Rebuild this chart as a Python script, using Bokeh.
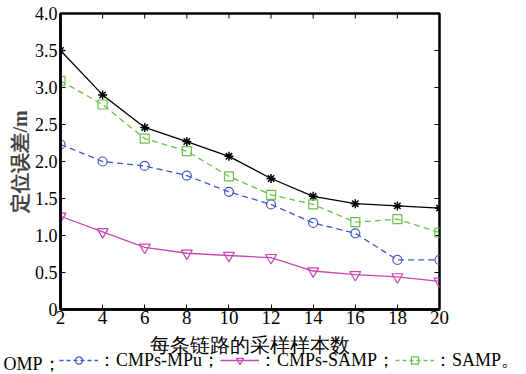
import math
from bokeh.plotting import figure
from bokeh.layouts import column
from bokeh.models import (Range1d, FixedTicker, NumeralTickFormatter,
                          Legend, LegendItem, Label)
from bokeh.embed import file_html
from bokeh.resources import INLINE

# ---- data ----
samples = [2, 4, 6, 8, 10, 12, 14, 16, 18, 20]
omp = [3.50, 2.90, 2.46, 2.27, 2.07, 1.77, 1.53, 1.43, 1.40, 1.37]
cmps_mpu = [2.23, 2.00, 1.94, 1.81, 1.59, 1.42, 1.17, 1.03, 0.67, 0.67]
cmps_samp = [1.26, 1.05, 0.84, 0.76, 0.73, 0.70, 0.52, 0.47, 0.44, 0.38]
samp = [3.09, 2.77, 2.31, 2.14, 1.80, 1.55, 1.42, 1.18, 1.22, 1.04]

x_ticks = [2, 4, 6, 8, 10, 12, 14, 16, 18, 20]
y_ticks = [0, 0.5, 1.0, 1.5, 2.0, 2.5, 3.0, 3.5, 4.0]
y_tick_labels = ["0", "0.5", "1.0", "1.5", "2.0", "2.5", "3.0", "3.5", "4.0"]
x_min, x_max = 2, 20
y_min, y_max = 0, 4

x_title = "每条链路的采样样本数"
y_title = "定位误差/m"
lead_label = "OMP；"
legend_labels = ["：CMPs-MPu；", "：CMPs-SAMP；", "：SAMP。"]

SERIF = "Liberation Serif"
BLUE = "#4257c6"
MAGENTA = "#c846b6"
GREEN = "#69c247"

W, H = 525, 373
LEFT, RIGHT, TOP, BOTTOM = 60, 86, 13, 24
FRAME_W = W - LEFT - RIGHT
FRAME_H = 296
MAIN_H = TOP + FRAME_H + BOTTOM
STRIP_H = H - MAIN_H

p = figure(width=W, height=MAIN_H,
           min_border_left=LEFT, min_border_right=RIGHT,
           min_border_top=TOP, min_border_bottom=BOTTOM,
           x_range=Range1d(x_min, x_max), y_range=Range1d(y_min, y_max),
           output_backend="svg", toolbar_location=None)
p.frame_align = False
p.grid.visible = False
p.outline_line_color = "black"
p.outline_line_width = 2.5
p.background_fill_color = "white"
p.border_fill_color = "white"

xa = p.xaxis[0]
ya = p.yaxis[0]
xa.ticker = FixedTicker(ticks=x_ticks)
ya.ticker = FixedTicker(ticks=y_ticks)
ya.formatter = NumeralTickFormatter(format="0.0")
ya.major_label_overrides = {t: l for t, l in zip(y_ticks, y_tick_labels)}
for ax in (xa, ya):
    ax.axis_line_width = 2.5
    ax.axis_line_color = "black"
    ax.major_tick_in = 5
    ax.major_tick_out = 0
    ax.minor_tick_line_color = None
    ax.major_tick_line_width = 1
    ax.major_label_text_font = SERIF
    ax.major_label_text_color = "black"
xa.major_label_text_font_size = "19px"
ya.major_label_text_font_size = "18px"
xa.major_label_standoff = 1
ya.major_label_standoff = 3
ya.axis_label = y_title
ya.axis_label_text_font = SERIF
ya.axis_label_text_font_size = "20px"
ya.axis_label_text_font_style = "bold"
ya.axis_label_standoff = 1

# inward ticks on the top and right edges (half of each dash is clipped by the frame)
p.scatter(x_ticks, [y_max] * len(x_ticks), marker="dash", size=10, angle=math.pi / 2,
          line_color="black", line_width=1)
p.scatter([x_max] * len(y_ticks), y_ticks, marker="dash", size=10,
          line_color="black", line_width=1)

# ---- series ----
p.line(samples, omp, line_color="black", line_width=1.3)
p.scatter(samples, omp, marker="asterisk", size=9, line_color="black", line_width=1.5)

p.line(samples, cmps_mpu, line_color=BLUE, line_width=1.3, line_dash="6 4")
p.scatter(samples, cmps_mpu, marker="circle", size=9, line_color=BLUE,
          fill_color=None, line_width=1.2)

p.line(samples, cmps_samp, line_color=MAGENTA, line_width=1.3)
p.scatter(samples, cmps_samp, marker="inverted_triangle", size=11, line_color=MAGENTA,
          fill_color=None, line_width=1.2)

p.line(samples, samp, line_color=GREEN, line_width=1.3, line_dash="6 4")
p.scatter(samples, samp, marker="square", size=9, line_color=GREEN,
          fill_color=None, line_width=1.2)

# ---- bottom strip: x title and legend row (1 data unit = 1 px) ----
q = figure(width=W, height=STRIP_H, x_range=Range1d(0, W), y_range=Range1d(0, STRIP_H),
           x_axis_type=None, y_axis_type=None,
           min_border=0, min_border_left=0, min_border_right=0,
           min_border_top=0, min_border_bottom=0,
           output_backend="svg", toolbar_location=None)
q.frame_align = False
q.grid.visible = False
q.outline_line_color = None
q.background_fill_color = "white"
q.border_fill_color = "white"

q.add_layout(Label(x=LEFT + FRAME_W / 2, y=STRIP_H, text=x_title, text_align="center",
                   text_baseline="top", text_font=SERIF, text_font_size="20px",
                   text_color="black"))
q.add_layout(Label(x=3, y=10, text=lead_label, text_align="left", text_baseline="middle",
                   text_font=SERIF, text_font_size="18px", text_color="black"))

# hidden renderers that only lend their style to the legend samples
g1 = [q.line(samples, cmps_mpu, line_color=BLUE, line_width=1.3, line_dash="4 3", visible=False),
      q.scatter(samples, cmps_mpu, marker="circle", size=8, line_color=BLUE, fill_color=None,
                line_width=1.2, visible=False)]
g2 = [q.line(samples, cmps_samp, line_color=MAGENTA, line_width=1.3, visible=False),
      q.scatter(samples, cmps_samp, marker="inverted_triangle", size=10, line_color=MAGENTA,
                fill_color=None, line_width=1.2, visible=False)]
g3 = [q.line(samples, samp, line_color=GREEN, line_width=1.3, line_dash="4 3", visible=False),
      q.scatter(samples, samp, marker="square", size=8, line_color=GREEN, fill_color=None,
                line_width=1.2, visible=False)]

legend = Legend(items=[
    LegendItem(label=legend_labels[0], renderers=g1),
    LegendItem(label=legend_labels[1], renderers=g2),
    LegendItem(label=legend_labels[2], renderers=g3),
], orientation="horizontal", location=(59, 1),
   glyph_width=39, glyph_height=18, label_standoff=0, spacing=0, padding=0, margin=0,
   label_height=18, label_text_font=SERIF, label_text_font_size="18px",
   label_text_color="black", border_line_color=None, background_fill_alpha=0,
   inactive_fill_alpha=0)
q.add_layout(legend, "center")

layout = column(p, q, spacing=0)
open("out.html", "w").write(file_html(layout, INLINE))
